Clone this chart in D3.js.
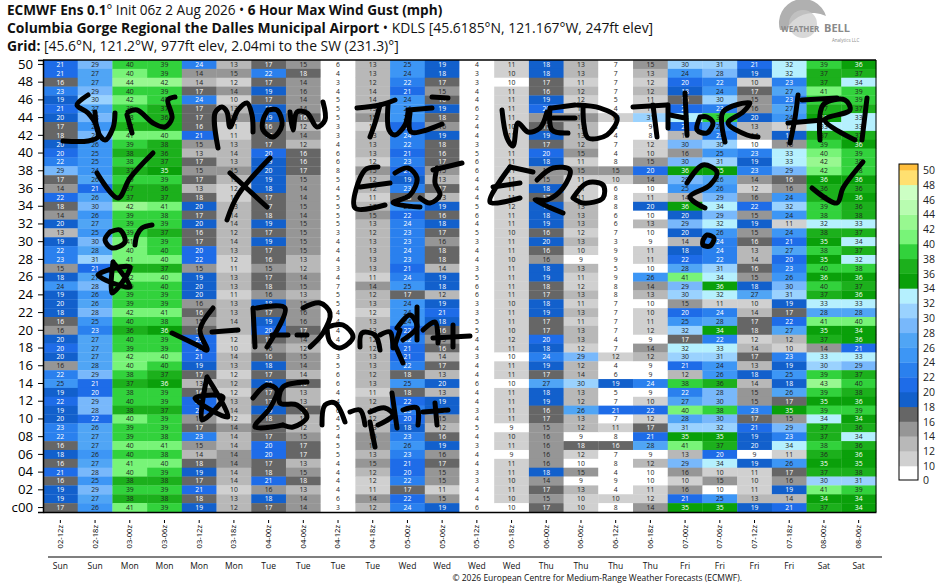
<!DOCTYPE html>
<html>
<head>
<meta charset="utf-8">
<script src="https://cdn.jsdelivr.net/npm/d3@7"></script>
<style>
  body { margin: 0; background: #fff; }
  svg { display: block; font-family: "Open Sans", sans-serif; }
  .title { fill: #111; }
  .title .b { font-weight: 700; }
  .cell-label { font-size: 6.8px; text-anchor: middle; }
</style>
</head>
<body>
<div id="vis"></div>
<script>
// ECMWF ensemble plume table: one row per member, one column per 6h period
const members = d3.range(50, 0, -1).map(d => String(d).padStart(2, "0")).concat(["c00"]);
const runs = ["02-12z","02-18z","03-00z","03-06z","03-12z","03-18z","04-00z","04-06z","04-12z","04-18z","05-00z","05-06z",
  "05-12z","05-18z","06-00z","06-06z","06-12z","06-18z","07-00z","07-06z","07-12z","07-18z","08-00z","08-06z"];
const days = ["Sun","Sun","Mon","Mon","Mon","Mon","Tue","Tue","Tue","Tue","Wed","Wed",
  "Wed","Wed","Thu","Thu","Thu","Thu","Fri","Fri","Fri","Fri","Sat","Sat"];

// Gusts by column, member 50 down to c00. Labels are rounded, so x.8 means the cell sits in the bin below.
const gusts = [
  [21,21,16,23,19,21,19.8,17,17.8,19.8,20,22,29,17,14,21.8,17.8,14,19.8,13,19,22,23,15,18,24,19,19.8,18,16,15.8,19.8,20,19.8,15.8,22,25,19,21.8,19,19.8,23,22,16,18,16,21,16,19,19,17],
  [29,27,27,29,30,27,28,25.8,28,25.8,25,25,24,26,21,26,29.8,25.8,27,25,29.8,27.8,31,21,27,28,25.8,26,28,25,23,27,27,27,27.8,29,21,20,29,28,21.8,26,27,27,25.8,27,28,25,29,27,25.8],
  [39.8,40,43.8,39.8,41.8,39,38,37,41,39,37.8,38,37,39,37,37,42,39,39,39,41,40,41,37,41.8,39,39,39,41.8,39.8,36,39.8,39,41.8,40,38,37,38,39.8,37.8,40,39,39,40,39.8,41,40,37.8,39,37.8,41],
  [39,39,42,39,39.8,37,36,37,40,37.8,36,37,35,39,36,37,41,38,39,37,39,39.8,40,37,40,39.8,39,39,41,38,35.8,39,39,40,39.8,37,35.8,39,39,37,39,39,38,41,38,40,39,37.8,39,37.8,39],
  [23.8,14,13.8,17,23.8,17,17,16,21,15,13,17,15,17,13,17.8,19.8,17,19.8,16,17,20,21.8,15,19,19.8,19.8,15.8,16,15,17,21.8,21,21,19,17,13,16,21,21.8,15,17,23,15,13.8,17.8,19,17,21,17.8,19],
  [13,15,11.8,14,10,13,15,11,11,13,13.8,13,15,13,11.8,11.8,13,13.8,13.8,12,13.8,13,11.8,11,13,13,11,13,13,13.8,13.8,11.8,10,13.8,13,11.8,12,11.8,13,13.8,11.8,14,13.8,13.8,14,14,13.8,13.8,10,13,12],
  [17,22,17,19,17,19,19,16,17,17,20,19,19.8,19,18,17,17,17.8,19,17,19,17,16,15,17,17.8,15.8,18,17,19,20,17,15.8,16,18,17,19.8,17,17,19,17.8,17,17,20,20,17,17.8,21,15.8,18,17],
  [15,17.8,14,15.8,14,14,16,12,14,12,16,16,17,15,14,14,15,14,15,15,15,15,13,12,14,15,13,15,15.8,15.8,17,14,12,15,14,13.8,16,13,13,17,13,12,15,17,17,13,15,17.8,13,14,14],
  [6,4,3,4,5,5,5,3,3,4,6,6,8,5,4,5,5,5,5,3,4,4,4,3,4,7,5,5,4,4,4,4,4,3,5,6,6,4,4,6,4,5,4,5,5,4,4,4,4,6,3],
  [13,13,12,13.8,13.8,13,15,11,13,13,13,11.8,15,12,12,11,13,15,13,12,13,13,13,13,11,14,12,13,11.8,13,13,12,12,13,13,12,13,11,12,13,12,13,15,15,13,15,12,11.8,11,14,12],
  [25,24,22,21,24,24,24,21,23.8,22,21,23,21,19,23,17.8,25,21.8,23.8,23,23,23.8,23,21,23.8,25,17,24,24,24,21.8,22,21,21,22,17.8,25,17.8,21.8,23,20,18,23,25.8,23,21,20,22,17,21.8,23.8],
  [19,18,17,15,16,19,17.8,15.8,19,17.8,16,17,15,13,17,13,19,16,18,17,15.8,17.8,17.8,13.8,19,18,12,19,21,18,16,15,16,13.8,17,13,19.8,13,19,19,15,12,16,19,15.8,17,15,15,11,15,19],
  [4,3,3,4,4,6,2,4,4,3,5,6,6,4,4,4,5,6,4,5,3,4,4,3,5,6,6,3,3,5,5,4,4,3,4,4,6,4,4,3,4,5,4,3,4,4,3,3,4,4,6],
  [11,10,9.8,11,11,11,11,10,11,11,11,11,11,11,11,11,11.8,11,11,10,11,11,10,11,11,11,11,10,11,11,10,11.8,11,9.8,11,11,9.8,11,11,11,11,9,10,11,9,11,11,10,11,10,9.8],
  [18,18,17,16,19,20,15,17,19,17,20,18,15.8,15,18,17,19,18,19,16,19.8,16,15.8,18,19,17.8,17,18,19,17,17,20,18,23.8,19,17,27,18,19,16,17,15,15.8,15.8,15.8,15.8,18,14,17,15,17],
  [13,13,11,12,11.8,11.8,15,13,13,12,15,11,15,11,11,11,13,13,13,11.8,13,10,9,13,11,11.8,13,11,13,11,13,13,11.8,29,12,13.8,30,13,12,26,13,12,9,17.8,11.8,9.8,15,9,13,10,10],
  [7,7,7,7,5,4,10,8,4,7,4,8,15,10,6,8,8,6,6,7,3,9,9,5,9,8,8,7,7,7,7,4,7,11.8,4,6,19,5,7,21,7,11,8,16,7,8,4,9,4,10,8],
  [15,13,11.8,12,11,11,31,9,8,11.8,10,15,20,14,9.8,11,19.8,9.8,13,9.8,9,11,11,9.8,25.8,14,13,9.8,10,11,11.8,9,14,12,9,9,23.8,9,10,21.8,11.8,17,21,27.8,9,12,9.8,9.8,11,11.8,14],
  [30,24,20,18,16,21,33,21,12,29.8,15.8,29.8,35.8,29,25,13.8,35.8,19.8,29,19.8,13.8,18,21.8,27.8,41,29,30,15,20,25,31.8,17,32,30,21,12,38,22,27,40,27.8,31,35,41,13,29,15.8,10,15.8,21,35],
  [31,28,22,24,30,23,38,25,23,30,25,31,35,26,25.8,29,33.8,29,32,25.8,23.8,23.8,22,31,33.8,35.8,32,11,23.8,27.8,34,22,33,31,24,25.8,36,28,29.8,38,29.8,31.8,35,37,20,33.8,10,15,9.8,25,35],
  [21,19,10,17,15,15.8,19.8,13,13.8,9.8,23,19,23,14,11.8,15.8,21.8,15,19,15,16,13,13.8,16,15,18,27,10,13.8,17,17.8,11.8,13.8,17,13,18,13.8,15,15,23,17,21,19,19.8,9,19,11,10,11,13,19],
  [32,32,23,27,23,27,24,11.8,19,15.8,33,33,29,16,15.8,24,31.8,24,11,24,21,27,20,23,25.8,29.8,31,19,17,21.8,27,12,10,23,19,25,18,26,17,35,15,29,23,33.8,11,25.8,17,15.8,19,13.8,21],
  [39,37,37,41,39.8,37,35,33,37,39,40,42,41.8,35.8,36,36,39,38,32,37.8,35,38,35,39.8,35.8,39.8,37,33,27.8,41,35,37,14,33,30,39,43,39,35,39,33.8,37,37,38,36,35,37,30,41,34,37],
  [35.8,37,33.8,39,39,37,33,33,37,35.8,39,38,38,35.8,36,35.8,36,37.8,33,37,33.8,37,32,38,35.8,37,35.8,33,27.8,40,34,35.8,21,33,29,37,39.8,37.8,35.8,39,34,36,33.8,36,35.8,35,37.8,31,39,34,34]
];

const colorDomain = d3.range(10, 51, 2);
const colorRange = ["#ffffff","#d0d0d0","#b8b8b8","#969696","#666666","#1260cc","#1e6ce8","#2a80ee","#3d96f5","#50a5f5","#78b8fb","#9ad2fe",
  "#b5f0fe","#0aa00a","#1cb01c","#32d23c","#78f478","#98f890","#b8fcb0","#ccffc4","#ffe070","#ffbe3c"];
const whiteText = ["#666666","#1260cc","#1e6ce8","#2a80ee","#0aa00a"];
const legendTicks = ["50","48","46","44","42","40","38","36","34","32","30","28","26","24","22","20","18","16","14","12","10","0"];

// hand drawn marker scrawl on top of the chart, in page pixels
const scrawl = [
  [[88,95],[77,105],[88,113],[97,127],[98,137],[88,141],[63,141]],
  [[95,112],[98,132],[105,140],[113,128],[115,113]],
  [[127,115],[132,133]],
  [[128,112],[137,110],[153,123],[165,127],[172,118],[168,100],[175,97]],
  [[218,148],[215,113],[222,107],[227,112],[230,127],[238,110],[247,103],[252,115],[253,132]],
  [[268,110],[263,120],[263,130],[273,137],[282,125],[277,110],[268,110]],
  [[290,112],[293,130],[297,112],[307,113],[317,127],[325,120],[323,102]],
  [[357,108],[380,105],[395,100]],
  [[380,105],[375,123],[370,137]],
  [[388,105],[389,130],[395,135],[405,125],[408,112]],
  [[408,110],[432,108]],
  [[410,113],[411,132],[442,124]],
  [[432,97],[448,98]],
  [[502,110],[507,138],[513,146],[518,123],[528,132],[540,128],[547,112]],
  [[550,108],[552,130],[568,133]],
  [[553,118],[575,118]],
  [[552,108],[575,105]],
  [[578,105],[600,108],[617,118],[607,135],[588,138],[584,125],[583,108]],
  [[633,107],[667,105]],
  [[653,105],[657,137]],
  [[668,105],[668,128]],
  [[670,115],[685,118]],
  [[685,93],[687,135]],
  [[700,117],[697,130],[707,133],[713,123],[707,117],[700,117]],
  [[725,142],[723,112],[750,103],[743,112],[728,123],[747,135],[758,137]],
  [[798,95],[795,118],[790,143]],
  [[802,100],[837,98]],
  [[788,123],[823,120]],
  [[820,140],[823,105],[845,100],[850,110],[825,120],[855,140]],
  [[867,98],[862,140]],
  [[97,173],[118,198],[130,178],[153,153]],
  [[230,173],[267,207]],
  [[270,158],[238,195],[227,220]],
  [[378,167],[365,170],[355,208],[385,205]],
  [[360,187],[390,183]],
  [[395,173],[408,168],[417,178],[410,195],[393,203],[420,207]],
  [[433,170],[462,163]],
  [[437,168],[435,183],[440,195],[430,203],[420,198]],
  [[510,167],[490,202],[520,198]],
  [[510,167],[533,172]],
  [[493,187],[520,183]],
  [[537,180],[553,168],[570,170],[563,188],[547,200],[535,200],[563,213]],
  [[573,198],[587,183],[603,185],[603,198],[583,203],[573,198]],
  [[687,183],[703,165],[717,172],[710,185],[690,197],[705,208]],
  [[703,240],[707,235],[714,238],[710,246],[703,245],[703,240]],
  [[812,188],[837,203],[843,188],[863,162]],
  [[110,232],[105,240],[112,248],[125,242],[120,230],[110,232]],
  [[135,245],[137,235],[142,228],[152,225]],
  [[113,262],[130,287],[98,275],[130,267],[112,293],[113,262]],
  [[172,333],[197,345],[207,350],[200,330],[213,308]],
  [[212,332],[238,330]],
  [[253,308],[255,347]],
  [[257,308],[285,308],[267,347]],
  [[272,335],[288,335]],
  [[297,335],[307,335]],
  [[303,308],[320,303],[330,313],[323,333],[310,347]],
  [[327,327],[343,325],[353,337],[340,348],[330,342],[327,327]],
  [[360,347],[362,333],[375,335],[380,350]],
  [[380,335],[390,332],[393,348]],
  [[397,328],[410,315],[417,327],[403,340]],
  [[395,345],[403,363]],
  [[400,330],[395,345]],
  [[417,307],[417,340]],
  [[423,330],[435,322],[438,343]],
  [[453,325],[453,347]],
  [[433,338],[470,336]],
  [[207,377],[228,417],[195,398],[223,397],[202,420],[207,377]],
  [[253,398],[267,385],[277,390],[270,408],[255,427],[283,425]],
  [[307,382],[283,387],[280,403],[297,405],[307,417],[293,427],[283,425]],
  [[322,425],[325,405],[335,403],[345,422]],
  [[350,412],[360,410],[365,425]],
  [[370,412],[385,408],[393,415],[378,425]],
  [[370,422],[375,447]],
  [[392,393],[397,428]],
  [[403,410],[417,408],[418,425]],
  [[435,403],[437,425]],
  [[423,412],[448,410]]
];

const width = 944, height = 588;
const margin = { top: 60, right: 68, bottom: 76, left: 43 };

const svg = d3.select("#vis").append("svg").attr("width", width).attr("height", height);

const xScale = d3.scaleBand().domain(d3.range(runs.length)).range([margin.left, width - margin.right]);
const yScale = d3.scaleBand().domain(members).range([margin.top, height - margin.bottom]);
const colorScale = d3.scaleThreshold().domain(colorDomain).range(colorRange);

// Header
const header = svg.append("g").attr("class", "title");
const line1 = header.append("text").attr("x", 7).attr("y", 15).attr("font-size", 13.6);
line1.append("tspan").attr("class", "b").text("ECMWF Ens 0.1");
line1.append("tspan").text("° Init 06z 2 Aug 2026 • ");
line1.append("tspan").attr("class", "b").text("6 Hour Max Wind Gust (mph)");
const line2 = header.append("text").attr("x", 7).attr("y", 33).attr("font-size", 13.9);
line2.append("tspan").attr("class", "b").text("Columbia Gorge Regional the Dalles Municipal Airport");
line2.append("tspan").text(" • KDLS [45.6185°N, 121.167°W, 247ft elev]");
const line3 = header.append("text").attr("x", 7).attr("y", 51).attr("font-size", 13.9);
line3.append("tspan").attr("class", "b").text("Grid:");
line3.append("tspan").text(" [45.6°N, 121.2°W, 977ft elev, 2.04mi to the SW (231.3)°]");

// Logo
const logo = svg.append("g").attr("fill", "#8a8a8a");
logo.append("path").attr("d", "M780 30 A24 24 0 0 1 826 16 A30 30 0 0 0 786 30 Z").attr("fill", "#b0b0b0");
logo.append("circle").attr("cx", 803).attr("cy", 24).attr("r", 14).attr("fill", "#c8c8c8").attr("opacity", 0.7);
logo.append("text").attr("x", 781).attr("y", 32).attr("font-size", 8).attr("font-weight", 700).text("WEATHER");
logo.append("text").attr("x", 824).attr("y", 32).attr("font-size", 11).attr("font-weight", 700).text("BELL");
logo.append("text").attr("x", 832).attr("y", 42).attr("font-size", 4.5).text("Analytics LLC");

// Cells
const cells = svg.append("g");
gusts.forEach((col, c) => {
  col.forEach((v, r) => {
    const fill = colorScale(v);
    cells.append("rect")
      .attr("x", xScale(c)).attr("y", yScale(members[r]))
      .attr("width", xScale.bandwidth() + 0.3).attr("height", yScale.bandwidth() + 0.3)
      .attr("fill", fill);
    cells.append("text").attr("class", "cell-label")
      .attr("x", xScale(c) + xScale.bandwidth() / 2)
      .attr("y", yScale(members[r]) + yScale.bandwidth() / 2 + 2.5)
      .attr("fill", whiteText.includes(fill) ? "#fff" : "#222")
      .text(Math.round(v));
  });
});

// Axes
const yAxis = svg.append("g")
  .attr("transform", `translate(${margin.left},0)`)
  .call(d3.axisLeft(yScale)
    .tickValues(members.filter((d, i) => i % 2 === 0 && i < 50).concat(["c00"]))
    .tickSize(5).tickPadding(5));
yAxis.selectAll("text").style("font-size", "13.2px").style("font-family", "Open Sans").attr("fill", "#000");

const xAxis = svg.append("g")
  .attr("transform", `translate(0,${height - margin.bottom})`)
  .call(d3.axisBottom(xScale).tickFormat(i => runs[i]).tickSize(0).tickPadding(0));
xAxis.selectAll("text")
  .attr("transform", "rotate(-90)")
  .attr("text-anchor", "end")
  .attr("x", -13).attr("y", 0).attr("dy", "0.32em")
  .style("font-size", "7.6px")
  .style("font-family", "Open Sans");
xAxis.selectAll(".tick").append("line").attr("y1", 8).attr("y2", 11).attr("stroke", "#000");

svg.selectAll(".domain").attr("stroke-width", 1.5);
svg.append("line").attr("x1", margin.left).attr("x2", width - margin.right)
  .attr("y1", margin.top).attr("y2", margin.top).attr("stroke", "#000").attr("stroke-width", 1.5);
svg.append("line").attr("x1", width - margin.right).attr("x2", width - margin.right)
  .attr("y1", margin.top).attr("y2", height - margin.bottom).attr("stroke", "#000").attr("stroke-width", 1);

// Day row
svg.append("line").attr("x1", 48).attr("x2", 882).attr("y1", 557).attr("y2", 557).attr("stroke", "#000").attr("stroke-width", 1.2);
svg.append("g").selectAll("text").data(days).enter().append("text")
  .attr("x", (d, i) => xScale(i) + xScale.bandwidth() / 2)
  .attr("y", 569)
  .attr("text-anchor", "middle")
  .attr("font-size", 8.5)
  .attr("fill", "#111")
  .text(d => d);

svg.append("text").attr("x", 742).attr("y", 581).attr("text-anchor", "end")
  .attr("font-size", 8.5).attr("fill", "#111")
  .text("© 2026 European Centre for Medium-Range Weather Forecasts (ECMWF).");

// Colour legend
const legendX = 899, legendW = 19;
const legendY = d3.scaleLinear().domain([10, 50]).range([466, 170]);
const legendBins = colorRange.map((c, i) => {
  if (i === 0) return { c, y0: 466, y1: 480 };
  if (i === colorRange.length - 1) return { c, y0: 164, y1: 170 };
  return { c, y0: legendY(colorDomain[i]), y1: legendY(colorDomain[i - 1]) };
});
svg.append("g").selectAll("rect").data(legendBins).enter().append("rect")
  .attr("x", legendX).attr("width", legendW)
  .attr("y", d => d.y0).attr("height", d => d.y1 - d.y0 + 0.3)
  .attr("fill", d => d.c);
svg.append("rect").attr("x", legendX).attr("y", 164).attr("width", legendW).attr("height", 316)
  .attr("fill", "none").attr("stroke", "#000");
svg.append("g").selectAll("text").data(legendTicks).enter().append("text")
  .attr("x", 923)
  .attr("y", d => (d === "0" ? 480 : legendY(+d)) + 4)
  .attr("font-size", 10.5).attr("fill", "#222")
  .text(d => d);

// Marker scrawl
const scrawlLine = d3.line().curve(d3.curveCatmullRom.alpha(0.5));
svg.append("g").selectAll("path").data(scrawl).enter().append("path")
  .attr("d", d => scrawlLine(d))
  .attr("fill", "none").attr("stroke", "#000").attr("stroke-width", 5)
  .attr("stroke-linecap", "round").attr("stroke-linejoin", "round");
</script>
</body>
</html>
